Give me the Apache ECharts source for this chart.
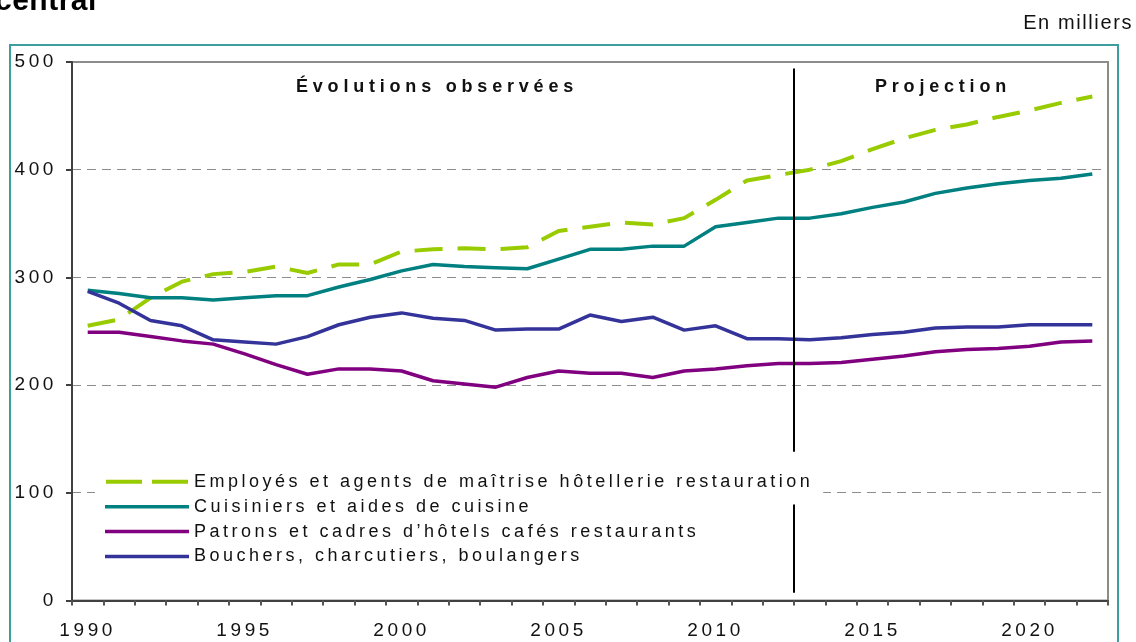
<!DOCTYPE html>
<html>
<head>
<meta charset="utf-8">
<script src="https://cdn.jsdelivr.net/npm/echarts@6/dist/echarts.min.js"></script>
<style>
  html, body { margin: 0; padding: 0; background: #fff; }
  #chart { width: 1136px; height: 642px; }
</style>
</head>
<body>
<div id="chart"></div>
<script>
// Years on the horizontal axis
const years = ['1990','1991','1992','1993','1994','1995','1996','1997','1998','1999',
  '2000','2001','2002','2003','2004','2005','2006','2007','2008','2009',
  '2010','2011','2012','2013','2014','2015','2016','2017','2018','2019',
  '2020','2021','2022'];

// Headcounts, in thousands
const employes = [255, 261, 281, 296, 303, 305, 310, 304, 312, 312, 324, 326, 327, 326, 328, 343, 347,
  351, 349, 355, 372, 390, 395, 400, 408, 419, 429, 437, 442, 449, 455, 462, 468];
const cuisiniers = [288, 285, 281, 281, 279, 281, 283, 283, 291, 298, 306, 312, 310, 309, 308, 317, 326,
  326, 329, 329, 347, 351, 355, 355, 359, 365, 370, 378, 383, 387, 390, 392, 396];
const patrons = [249, 249, 245, 241, 238, 229, 219, 210, 215, 215, 213, 204, 201, 198, 207, 213, 211,
  211, 207, 213, 215, 218, 220, 220, 221, 224, 227, 231, 233, 234, 236, 240, 241];
const bouchers = [287, 276, 260, 255, 242, 240, 238, 245, 256, 263, 267, 262, 260, 251, 252, 252, 265,
  259, 263, 251, 255, 243, 243, 242, 244, 247, 249, 253, 254, 254, 256, 256, 256];

const seriesNames = [
  'Employés et agents de maîtrise hôtellerie restauration',
  'Cuisiniers et aides de cuisine',
  'Patrons et cadres d\u2019hôtels cafés restaurants',
  'Bouchers, charcutiers, boulangers'
];

const yTicks = { min: 0, max: 500, step: 100 };

// Boundary between observed years and projection, and the vertical spans of the divider (values)
const splitAfter = '2012', splitBefore = '2013';
const dividerSpans = [[7, 89], [138, 494]];

// Tracked-out lettering: spacing chosen from the font size / weight
const spacingBySize = { 18: '3.5px', 19: '3.6px', 20: '1.6px', 30: '0.5px' };
const proto = CanvasRenderingContext2D.prototype;
const origFill = proto.fillText, origMeasure = proto.measureText;
function applySpacing(ctx) {
  if (!('letterSpacing' in ctx)) return;
  const f = ctx.font || '';
  const m = f.match(/(\d+(?:\.\d+)?)px/);
  const size = m ? Math.round(parseFloat(m[1])) : 0;
  const bold = /bold|[6-9]00/.test(f);
  let ls = spacingBySize[size] || '0px';
  if (bold && size === 18) ls = '4.8px';
  ctx.letterSpacing = ls;
}
proto.fillText = function (t, x, y, w) {
  applySpacing(this);
  return w === undefined ? origFill.call(this, t, x, y) : origFill.call(this, t, x, y, w);
};
proto.measureText = function (t) {
  applySpacing(this);
  return origMeasure.call(this, t);
};

const FONT = "'Liberation Sans', Arial, sans-serif";
const chart = echarts.init(document.getElementById('chart'), null, { renderer: 'canvas' });

const colors = ['#99cc00', '#008080', '#800080', '#333399'];
const values = [employes, cuisiniers, patrons, bouchers];

// Legend keys: a broken bar for the dashed series, plain bars for the others
const dashedKey = 'path://M0,0h36v4h-36z M46,0h36v4h-36z';
const solidKey = 'path://M0,0h84v3.5h-84z';

const option = {
  animation: false,
  backgroundColor: '#fff',
  color: colors,
  grid: {
    left: 72, right: 28, top: 62, bottom: 41,
    show: true, borderColor: '#8c8c8c', borderWidth: 2, backgroundColor: 'transparent'
  },
  xAxis: {
    type: 'category',
    data: years,
    boundaryGap: true,
    axisLine: { lineStyle: { color: '#404040', width: 2 } },
    axisTick: { show: true, length: 5, interval: 0, lineStyle: { color: '#555', width: 2 } },
    axisLabel: { interval: 4, margin: 19, color: '#111', fontSize: 19, fontFamily: FONT },
    splitLine: { show: false }
  },
  yAxis: {
    type: 'value',
    min: yTicks.min, max: yTicks.max, interval: yTicks.step,
    axisLine: { show: true, lineStyle: { color: '#404040', width: 2 } },
    axisTick: { show: true, length: 6, lineStyle: { color: '#404040', width: 2 } },
    axisLabel: { margin: 15, color: '#111', fontSize: 19, fontFamily: FONT },
    splitLine: { show: true, lineStyle: { color: '#8c8c8c', width: 1, type: [9, 6] } }
  },
  legend: {
    orient: 'vertical',
    left: 95, top: 461,
    padding: [10, 10, 8, 10],
    itemWidth: 84, itemHeight: 4, itemGap: 3.4,
    backgroundColor: '#fff',
    selectedMode: false,
    textStyle: { fontSize: 18, color: '#111', fontFamily: FONT },
    data: seriesNames.map((name, i) => ({ name, icon: i === 0 ? dashedKey : solidKey }))
  },
  series: seriesNames.map((name, i) => ({
    name,
    type: 'line',
    data: values[i],
    symbol: 'none',
    z: 3,
    lineStyle: i === 0
      ? { width: 4, color: colors[i], type: [28, 15] }
      : { width: 3.5, color: colors[i] }
  }))
};
chart.setOption(option);

// Divider between observed and projected years, plus page decorations
const xA = chart.convertToPixel({ xAxisIndex: 0 }, splitAfter);
const xB = chart.convertToPixel({ xAxisIndex: 0 }, splitBefore);
const xDiv = Math.round((xA + xB) / 2);
const dividerLines = dividerSpans.map(([lo, hi]) => ({
  type: 'line',
  z: 50,
  shape: {
    x1: xDiv, y1: chart.convertToPixel({ yAxisIndex: 0 }, hi),
    x2: xDiv, y2: chart.convertToPixel({ yAxisIndex: 0 }, lo)
  },
  style: { stroke: '#000', lineWidth: 2 }
}));

chart.setOption({
  graphic: [
    {
      type: 'rect', z: 0, silent: true,
      shape: { x: 10, y: 45, width: 1108, height: 640 },
      style: { fill: 'none', stroke: '#3d9e9e', lineWidth: 2 }
    },
    {
      type: 'text', left: -5, top: -14, z: 60,
      style: { text: 'central', font: "bold 30px 'Liberation Sans', Arial, sans-serif", fill: '#000' }
    },
    {
      type: 'text', right: 3, top: 13, z: 60,
      style: { text: 'En milliers', font: "20px 'Liberation Sans', Arial, sans-serif", fill: '#111' }
    },
    {
      type: 'text', x: 437, y: 87, z: 60,
      style: {
        text: 'Évolutions observées', font: "bold 18px 'Liberation Sans', Arial, sans-serif",
        fill: '#111', align: 'center', verticalAlign: 'middle'
      }
    },
    {
      type: 'text', x: 943, y: 87, z: 60,
      style: {
        text: 'Projection', font: "bold 18px 'Liberation Sans', Arial, sans-serif",
        fill: '#111', align: 'center', verticalAlign: 'middle'
      }
    },
    ...dividerLines
  ]
});
</script>
</body>
</html>
